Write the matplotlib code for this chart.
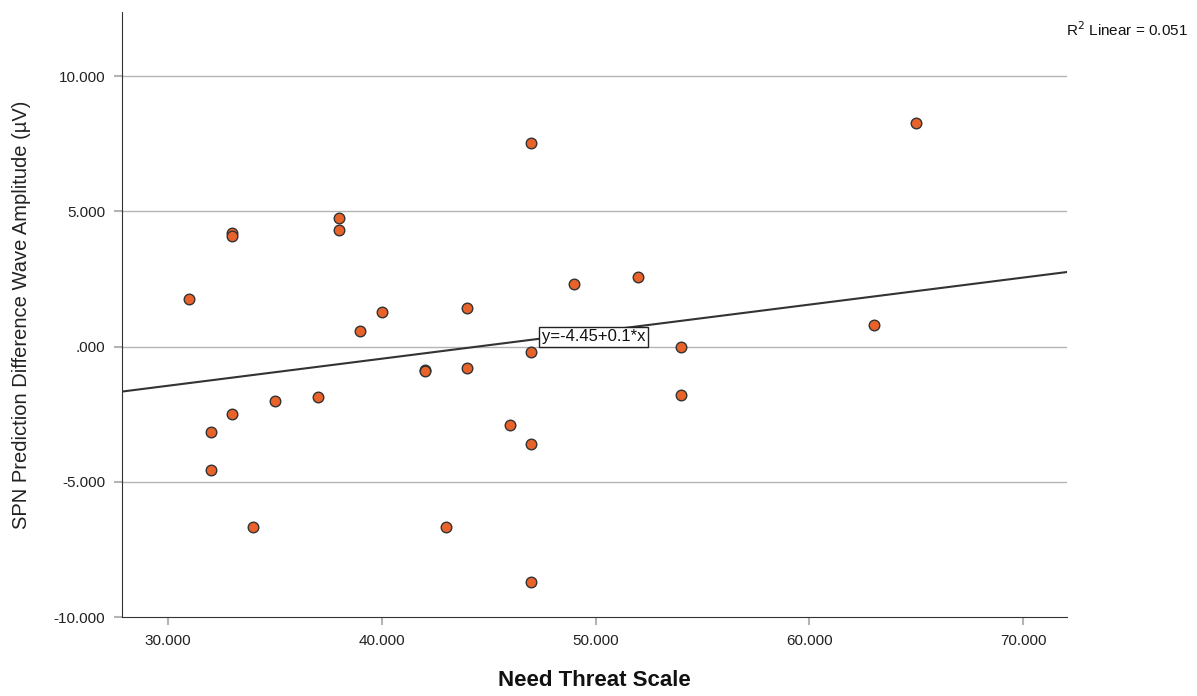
import matplotlib.pyplot as plt
import numpy as np

plt.rcParams['font.family'] = ['Liberation Sans', 'DejaVu Sans']

# Need threat score vs SPN prediction difference wave amplitude
need_threat = [31, 32, 32, 33, 33, 33, 34, 35, 37, 38, 38, 39, 40, 42, 42,
               43, 44, 44, 46, 47, 47, 47, 47, 49, 52, 54, 54, 63, 65]
spn_amp = [1.74, -3.15, -4.56, 4.20, 4.10, -2.48, -6.67, -2.00, -1.85, 4.74, 4.30,
           0.56, 1.26, -0.88, -0.90, -6.67, 1.41, -0.78, -2.89, 7.52, -0.19, -3.59,
           -8.70, 2.30, 2.56, 0.00, -1.78, 0.78, 8.26]

intercept = -4.45
slope = 0.1
r2 = 0.051

fig = plt.figure(figsize=(11.97, 6.96), dpi=100)
ax = fig.add_axes([0.1019, 0.1135, 0.7895, 0.8693])

xmin, xmax = 27.85, 72.05
ax.set_xlim(xmin, xmax)
ax.set_ylim(-10, 12.37)

yt = [-10, -5, 0, 5, 10]
ax.set_yticks(yt)
ax.set_yticklabels(['-10.000', '-5.000', '.000', '5.000', '10.000'])
xt = [30, 40, 50, 60, 70]
ax.set_xticks(xt)
ax.set_xticklabels(['30.000', '40.000', '50.000', '60.000', '70.000'])

for v in [-5, 0, 5, 10]:
    ax.axhline(v, color='#b4b4b4', lw=1.0, zorder=1)

ax.spines['top'].set_visible(False)
ax.spines['right'].set_visible(False)
ax.spines['left'].set_color('#333333')
ax.spines['bottom'].set_color('#333333')
ax.tick_params(axis='both', direction='out', length=6, width=1.5, color='#b4b4b4',
               labelsize=11, labelcolor='#222222', pad=6)

# fit line
xs = np.array([xmin, xmax])
ax.plot(xs, intercept + slope * xs, color='#333333', lw=1.5, zorder=2)

ax.scatter(need_threat, spn_amp, s=58, color='#e8622a', edgecolor='#333333',
           linewidth=1.0, zorder=3)

ax.text(49.9, 0.37, 'y=-4.45+0.1*x', fontsize=12, ha='center', va='center',
        color='#111111', zorder=4,
        bbox=dict(boxstyle='square,pad=0.15', fc='white', ec='#222222', lw=1))

ax.set_xlabel('Need Threat Scale', fontsize=16, fontweight='bold', labelpad=16,
              color='#111111')
ax.set_ylabel('SPN Prediction Difference Wave Amplitude (µV)', fontsize=14.5,
              labelpad=16, color='#222222')

fig.text(0.9925, 0.958, r'R$^2$ Linear = 0.051', fontsize=11, ha='right',
         va='center', color='#111111')

fig.savefig('out.png', dpi=100)
